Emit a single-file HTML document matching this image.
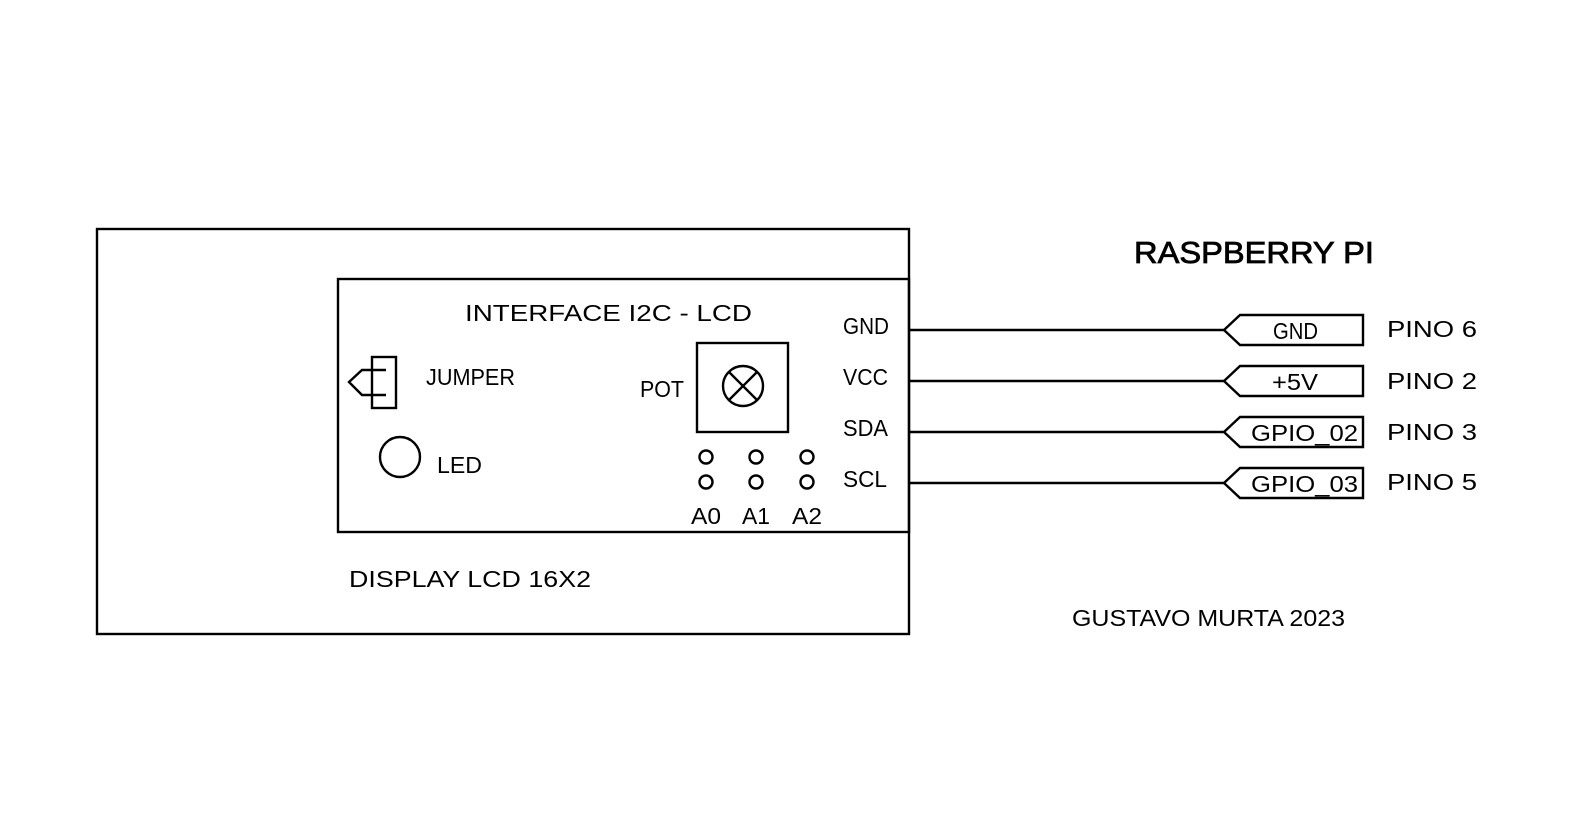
<!DOCTYPE html>
<html><head><meta charset="utf-8"><style>
html,body{margin:0;padding:0;background:#fff;}
svg{display:block}
text{font-family:"Liberation Sans","DejaVu Sans",sans-serif;fill:#000;font-size:23px;}
</style></head><body>
<svg width="1577" height="824" viewBox="0 0 1577 824" xmlns="http://www.w3.org/2000/svg">
<g fill="none" stroke="#000" stroke-width="2.4">
<rect x="97" y="229" width="812" height="405"/>
<rect x="338" y="279" width="571" height="253"/>
<line x1="909" y1="330" x2="1225" y2="330"/>
<line x1="909" y1="381" x2="1225" y2="381"/>
<line x1="909" y1="432" x2="1225" y2="432"/>
<line x1="909" y1="483" x2="1225" y2="483"/>
<polygon points="1224,330 1240,315 1363,315 1363,345 1240,345"/>
<polygon points="1224,381 1240,366 1363,366 1363,396 1240,396"/>
<polygon points="1224,432 1240,417 1363,417 1363,447 1240,447"/>
<polygon points="1224,483 1240,468 1363,468 1363,498 1240,498"/>
<rect x="372" y="357" width="24" height="51"/>
<polyline points="386,370 362,370 349,382 362,395 386,395"/>
<circle cx="400" cy="457" r="20"/>
<rect x="697" y="343" width="91" height="89"/>
<circle cx="743" cy="386" r="20"/>
<line x1="729" y1="372" x2="757" y2="400"/>
<line x1="757" y1="372" x2="729" y2="400"/>
<circle cx="706" cy="457" r="6.5"/><circle cx="756" cy="457" r="6.5"/><circle cx="807" cy="457" r="6.5"/>
<circle cx="706" cy="482" r="6.5"/><circle cx="756" cy="482" r="6.5"/><circle cx="807" cy="482" r="6.5"/>
</g>
<text x="465" y="321" textLength="287" lengthAdjust="spacingAndGlyphs">INTERFACE I2C - LCD</text>
<text x="843" y="334" textLength="46" lengthAdjust="spacingAndGlyphs">GND</text>
<text x="843" y="385" textLength="45" lengthAdjust="spacingAndGlyphs">VCC</text>
<text x="843" y="436" textLength="45" lengthAdjust="spacingAndGlyphs">SDA</text>
<text x="843" y="487" textLength="44" lengthAdjust="spacingAndGlyphs">SCL</text>
<text x="426" y="385" textLength="89" lengthAdjust="spacingAndGlyphs">JUMPER</text>
<text x="640" y="397" textLength="44" lengthAdjust="spacingAndGlyphs">POT</text>
<text x="437" y="473" textLength="45" lengthAdjust="spacingAndGlyphs">LED</text>
<text x="691" y="524" textLength="30" lengthAdjust="spacingAndGlyphs">A0</text>
<text x="742" y="524" textLength="28" lengthAdjust="spacingAndGlyphs">A1</text>
<text x="792" y="524" textLength="30" lengthAdjust="spacingAndGlyphs">A2</text>
<text x="349" y="587" textLength="242" lengthAdjust="spacingAndGlyphs">DISPLAY LCD 16X2</text>
<text x="1072" y="626" textLength="273" lengthAdjust="spacingAndGlyphs">GUSTAVO MURTA 2023</text>
<text x="1134" y="263" textLength="240" lengthAdjust="spacingAndGlyphs" style="font-size:31px;stroke:#000;stroke-width:0.8">RASPBERRY PI</text>
<text x="1273" y="339" textLength="45" lengthAdjust="spacingAndGlyphs">GND</text>
<text x="1272" y="390" textLength="46" lengthAdjust="spacingAndGlyphs">+5V</text>
<text x="1251" y="441" textLength="107" lengthAdjust="spacingAndGlyphs">GPIO_02</text>
<text x="1251" y="492" textLength="107" lengthAdjust="spacingAndGlyphs">GPIO_03</text>
<text x="1387" y="337" textLength="90" lengthAdjust="spacingAndGlyphs">PINO 6</text>
<text x="1387" y="389" textLength="90" lengthAdjust="spacingAndGlyphs">PINO 2</text>
<text x="1387" y="440" textLength="90" lengthAdjust="spacingAndGlyphs">PINO 3</text>
<text x="1387" y="490" textLength="90" lengthAdjust="spacingAndGlyphs">PINO 5</text>
</svg>
</body></html>
